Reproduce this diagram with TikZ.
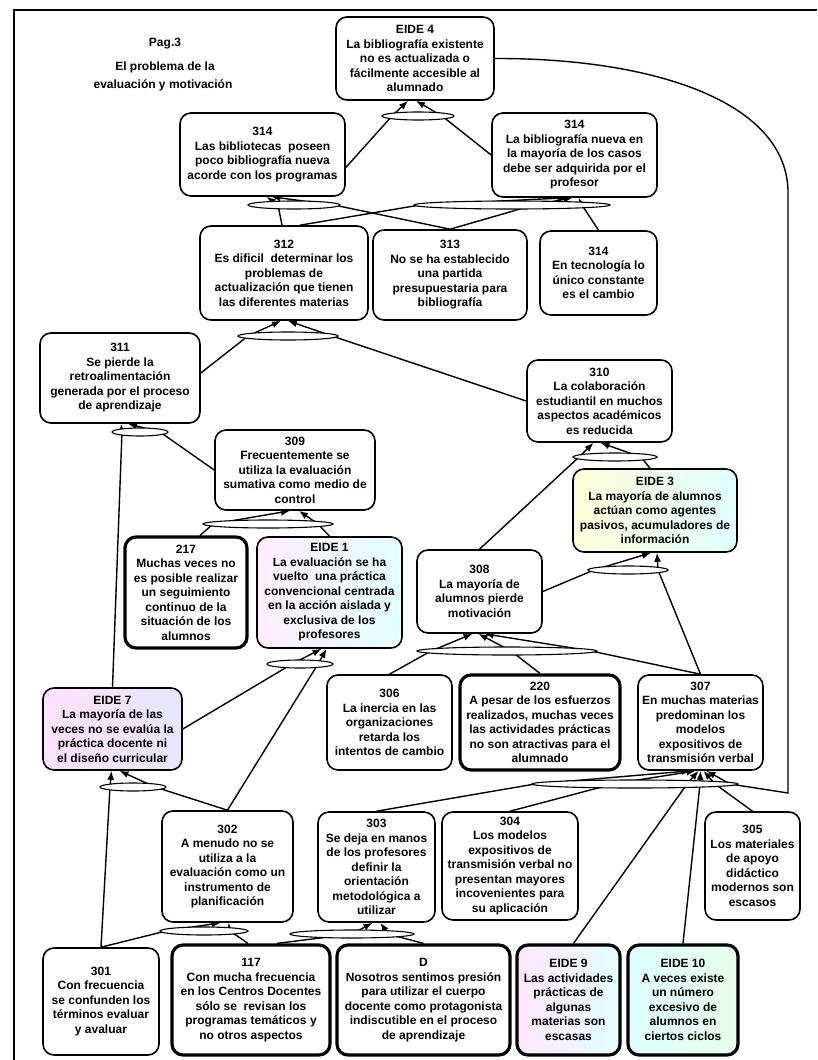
\documentclass[tikz,border=0pt]{standalone}
\usepackage{fontspec}
\setmainfont{Liberation Sans}
\usetikzlibrary{shapes.geometric,arrows.meta,backgrounds}

\tikzset{
  box/.style={draw, line width=1.6pt, rounded corners=11pt, fill=white,
    align=center, inner sep=2pt, font=\fontsize{12}{14.5}\selectfont\bfseries},
  heavy/.style={line width=3.2pt},
  tintA/.style={shading=axis, left color=magenta!7, middle color=green!11, right color=cyan!11},
  tintB/.style={shading=axis, left color=yellow!15, middle color=green!11, right color=cyan!12},
  tintC/.style={shading=axis, left color=magenta!12, middle color=red!6, right color=blue!10},
  tintD/.style={shading=axis, left color=magenta!10, middle color=yellow!7, right color=cyan!11},
  tintE/.style={shading=axis, left color=cyan!13, middle color=blue!6, right color=green!9},
  andj/.style={ellipse, draw, line width=1.1pt, fill=white, minimum height=8pt, inner sep=0pt},
  link/.style={line width=1.4pt},
  tip/.style={line width=1.4pt, -{Latex[length=9pt,width=7pt]}},
  title/.style={font=\fontsize{12}{14.5}\selectfont\bfseries},
}

% source -> and-junction -> target
% #1 source point, #2 junction, #3 offset on junction, #4 target, #5 offset on target
\newcommand\andlink[5]{%
  \draw[link] (#1) -- ([xshift=#3pt]#2.center);
  \draw[tip] ([xshift=#3pt]#2.center) -- ([xshift=#5pt]#4.south);}

\begin{document}
\begin{tikzpicture}[x=1pt,y=-1pt]
\useasboundingbox (0,0) rectangle (817,1060);

% page frame
\draw[line width=2pt] (14,1060) -- (14,10) -- (817,10);

% heading
\node[title] (pg)  at (165,44) {Pag.3};
\node[title] (tt1) at (165,67) {El problema de la};
\node[title] (tt2) at (163,85) {evaluación y motivación};

% ---- boxes ----
\node[box, minimum width=158pt, minimum height=83pt] (eide4) at (415,58.5)
  {EIDE 4\\La bibliografía existente\\no es actualizada o\\fácilmente accesible al\\alumnado};
\node[box, minimum width=165pt, minimum height=83pt] (b314a) at (262.5,154.5)
  {314\\Las bibliotecas\ \ poseen\\poco bibliografía nueva\\acorde con los programas};
\node[box, minimum width=165pt, minimum height=84pt] (b314b) at (574.5,155)
  {314\\La bibliografía nueva en\\la mayoría de los casos\\debe ser adquirida por el\\profesor};
\node[box, minimum width=168pt, minimum height=94pt] (b312) at (284,273)
  {312\\Es dificil\ \ determinar los\\problemas de\\actualización que tienen\\las diferentes materias};
\node[box, minimum width=154pt, minimum height=90pt] (b313) at (450,275)
  {313\\No se ha establecido\\una partida\\presupuestaria para\\bibliografía};
\node[box, minimum width=117pt, minimum height=84pt] (b314c) at (598.5,273)
  {314\\En tecnología lo\\único constante\\es el cambio};
\node[box, minimum width=160pt, minimum height=90pt] (b311) at (120,378)
  {311\\Se pierde la\\retroalimentación\\generada por el proceso\\de aprendizaje};
\node[box, minimum width=145pt, minimum height=82pt] (b310) at (599.5,401)
  {310\\La colaboración\\estudiantil en muchos\\aspectos académicos\\es reducida};
\node[box, minimum width=160pt, minimum height=80pt] (b309) at (295,470)
  {309\\Frecuentemente se\\utiliza la evaluación\\sumativa como medio de\\control};
\node[box, heavy, minimum width=122pt, minimum height=111pt] (b217) at (186,592.5)
  {217\\Muchas veces no\\es posible realizar\\un seguimiento\\continuo de la\\situación de los\\alumnos};
\node[box, tintA, minimum width=145pt, minimum height=111pt] (eide1) at (329.5,592.5)
  {EIDE 1\\La evaluación se ha\\vuelto\ \ una práctica\\convencional centrada\\en la acción aislada y\\exclusiva de los\\profesores};
\node[box, tintB, minimum width=164pt, minimum height=83pt] (eide3) at (655,510.5)
  {EIDE 3\\La mayoría de alumnos\\actúan como agentes\\pasivos, acumuladores de\\información};
\node[box, minimum width=125pt, minimum height=83pt] (b308) at (479.5,591.5)
  {308\\La mayoría de\\alumnos pierde\\motivación};
\node[box, tintC, minimum width=139pt, minimum height=82pt] (eide7) at (112.5,729)
  {EIDE 7\\La mayoría de las\\veces no se evalúa la\\práctica docente ni\\el diseño curricular};
\node[box, minimum width=125pt, minimum height=95pt] (b306) at (389.5,722.5)
  {306\\La inercia en las\\organizaciones\\retarda los\\intentos de cambio};
\node[box, heavy, minimum width=160pt, minimum height=95pt] (b220) at (540,722.5)
  {220\\A pesar de los esfuerzos\\realizados, muchas veces\\las actividades prácticas\\no son atractivas para el\\alumnado};
\node[box, minimum width=125pt, minimum height=95pt] (b307) at (700.5,722.5)
  {307\\En muchas materias\\predominan los\\modelos\\expositivos de\\transmisión verbal};
\node[box, minimum width=131pt, minimum height=111pt] (b302) at (227.5,866.5)
  {302\\A menudo no se\\utiliza a la\\evaluación como un\\instrumento de\\planificación};
\node[box, minimum width=117pt, minimum height=110pt] (b303) at (376.5,867)
  {303\\Se deja en manos\\de los profesores\\definir la\\orientación\\metodológica a\\utilizar};
\node[box, minimum width=136pt, minimum height=108pt] (b304) at (510,866)
  {304\\Los modelos\\expositivos de\\transmisión verbal no\\presentan mayores\\incovenientes para\\su aplicación};
\node[box, minimum width=95pt, minimum height=108pt] (b305) at (752.5,866)
  {305\\Los materiales\\de apoyo\\didáctico\\modernos son\\escasos};
\node[box, minimum width=116pt, minimum height=107pt] (b301) at (101,1001.5)
  {301\\Con frecuencia\\se confunden los\\términos evaluar\\y avaluar};
\node[box, heavy, minimum width=158pt, minimum height=110pt] (b117) at (251,1000)
  {117\\Con mucha frecuencia\\en los Centros Docentes\\sólo se\ \ revisan los\\programas temáticos y\\no otros aspectos};
\node[box, heavy, minimum width=173pt, minimum height=110pt] (bD) at (423.5,1000)
  {D\\Nosotros sentimos presión\\para utilizar el cuerpo\\docente como protagonista\\indiscutible en el proceso\\de aprendizaje};
\node[box, heavy, tintD, minimum width=103pt, minimum height=110pt] (eide9) at (568.5,1000)
  {EIDE 9\\Las actividades\\prácticas de\\algunas\\materias son\\escasas};
\node[box, heavy, tintE, minimum width=110pt, minimum height=110pt] (eide10) at (683,1000)
  {EIDE 10\\A veces existe\\un número\\excesivo de\\alumnos en\\ciertos ciclos};

% ---- and-junctions ----
\node[andj, minimum width=72pt]  (jE4)   at (418,116) {};
\node[andj, minimum width=92pt]  (j314a) at (294,205) {};
\node[andj, minimum width=196pt] (j314b) at (512,205) {};
\node[andj, minimum width=100pt] (j312)  at (288,336) {};
\node[andj, minimum width=56pt]  (j311)  at (140,432) {};
\node[andj, minimum width=84pt]  (j310)  at (615,457) {};
\node[andj, minimum width=130pt] (j309)  at (268,524) {};
\node[andj, minimum width=80pt]  (jE3)   at (628,570) {};
\node[andj, minimum width=180pt] (j308)  at (507,651) {};
\node[andj, minimum width=66pt]  (jE1)   at (300,664) {};
\node[andj, minimum width=66pt]  (jE7)   at (133,787) {};
\node[andj, minimum width=206pt] (j307)  at (635,784) {};
\node[andj, minimum width=88pt]  (j302)  at (204,931) {};
\node[andj, minimum width=124pt] (j303)  at (352,934) {};

% ---- connectors ----
\begin{pgfonlayer}{background}
\andlink{[yshift=-13pt]b314a.east}{jE4}{-26}{eide4}{-7}
\andlink{b314b.west}{jE4}{24}{eide4}{1}

\andlink{[xshift=-2pt]b312.north}{j314a}{-16}{b314a}{4}
\andlink{b313.north}{j314a}{40}{b314a}{9}

\andlink{[xshift=16pt]b312.north}{j314b}{-92}{b314b}{-8}
\andlink{b313.north}{j314b}{22}{b314b}{-2}
\andlink{b314c.north}{j314b}{70}{b314b}{4}

\andlink{[yshift=5pt]b311.east}{j312}{-40}{b312}{-3}
\andlink{b310.west}{j312}{44}{b312}{4}

\andlink{eide7.north}{j311}{-18}{b311}{1}
\andlink{b309.west}{j311}{20}{b311}{8}

\andlink{b308.north}{j310}{-36}{b310}{-6}
\andlink{[xshift=-5pt]eide3.north}{j310}{26}{b310}{1}

\andlink{[xshift=14pt]b217.north}{j309}{-55}{b309}{-5}
\andlink{eide1.north}{j309}{50}{b309}{4}

\andlink{b308.east}{jE3}{-34}{eide3}{-4}
\andlink{b307.north}{jE3}{30}{eide3}{2}

\andlink{b306.north}{j308}{-76}{b308}{-7}
\andlink{b220.north}{j308}{4}{b308}{-1}
\andlink{b307.north}{j308}{84}{b308}{5}

\andlink{eide7.east}{jE1}{-8}{eide1}{-8}
\andlink{b302.north}{jE1}{18}{eide1}{-3}

\andlink{b301.north}{jE7}{-23}{eide7}{-1}
\andlink{b302.north}{jE7}{22}{eide7}{7}

\andlink{b301.north}{j302}{-38}{b302}{-7}
\andlink{[xshift=-3pt]b117.north}{j302}{26}{b302}{1}

\andlink{[xshift=26pt]b117.north}{j303}{0}{b303}{-4}
\andlink{bD.north}{j303}{36}{b303}{4}

\andlink{b303.north}{j307}{-100}{b307}{-10}
\andlink{b304.north}{j307}{-22}{b307}{-5}
\andlink{[xshift=5pt]eide9.north}{j307}{52}{b307}{-2}
\andlink{eide10.north}{j307}{65}{b307}{0}
\andlink{b305.north}{j307}{80}{b307}{3}

% feedback from EIDE 4 down the right side
\draw[link] (eide4.east) .. controls (650,58) and (785,100) .. (788,190)
  -- (788,793) -- ([xshift=95pt]j307.center);
\draw[tip] ([xshift=95pt]j307.center) -- ([xshift=6pt]b307.south);
\end{pgfonlayer}
\end{tikzpicture}
\end{document}
